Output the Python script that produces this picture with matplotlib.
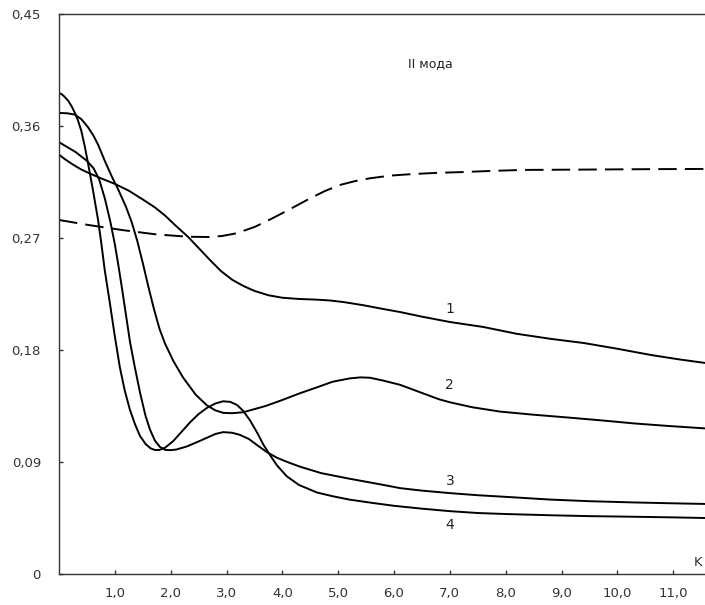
import numpy as np
import matplotlib.pyplot as plt

# curves of the second mode vs K
k1 = [0.0, 0.1, 0.25, 0.4, 0.52, 0.75, 1.0, 1.25, 1.5, 1.72, 1.9, 2.1, 2.31, 2.5,
      2.7, 2.9, 3.1, 3.3, 3.5, 3.75, 4.0, 4.3, 4.6, 4.85, 5.1, 5.45, 5.8, 6.11,
      6.5, 7.0, 7.6, 8.2, 8.8, 9.4, 10.0, 10.6, 11.1, 11.57]
v1 = [0.337, 0.3335, 0.329, 0.325, 0.3225, 0.318, 0.3135, 0.308, 0.301, 0.2945,
      0.288, 0.2795, 0.271, 0.262, 0.2525, 0.2435, 0.2365, 0.2315, 0.2275, 0.224,
      0.222, 0.221, 0.2205, 0.2198, 0.2185, 0.216, 0.213, 0.2105, 0.2068, 0.2025,
      0.1985, 0.193, 0.189, 0.1856, 0.181, 0.176, 0.1725, 0.1696]

k2 = [0.0, 0.15, 0.28, 0.4, 0.52, 0.62, 0.70, 0.82, 0.95, 1.06, 1.2, 1.3, 1.4, 1.5,
      1.6, 1.7, 1.8, 1.9, 2.05, 2.22, 2.45, 2.65, 2.8, 2.94, 3.1, 3.3, 3.5, 3.7,
      4.01, 4.3, 4.62, 4.9, 5.21, 5.4, 5.57, 5.8, 6.11, 6.5, 6.8, 7.0, 7.4, 7.9,
      8.5, 9.1, 9.7, 10.3, 10.9, 11.57]
v2 = [0.3705, 0.3702, 0.3692, 0.3655, 0.359, 0.352, 0.345, 0.332, 0.319, 0.309,
      0.295, 0.283, 0.268, 0.250, 0.231, 0.213, 0.197, 0.185, 0.171, 0.158, 0.144,
      0.1355, 0.1315, 0.1295, 0.1292, 0.130, 0.1325, 0.135, 0.140, 0.145, 0.150,
      0.1545, 0.1572, 0.158, 0.1577, 0.1555, 0.152, 0.1455, 0.1405, 0.138, 0.134,
      0.1305, 0.128, 0.1258, 0.1235, 0.121, 0.119, 0.117]

k3 = [0.0, 0.15, 0.3, 0.5, 0.62, 0.72, 0.82, 0.92, 1.0, 1.06, 1.13, 1.2, 1.27,
      1.35, 1.45, 1.55, 1.63, 1.72, 1.81, 1.9, 1.99, 2.1, 2.29, 2.5, 2.65, 2.8,
      2.94, 3.1, 3.24, 3.4, 3.55, 3.72, 3.9, 4.1, 4.32, 4.7, 5.21, 5.7, 6.11, 6.5,
      7.0, 7.5, 8.0, 8.8, 9.5, 10.3, 11.0, 11.57]
v3 = [0.347, 0.343, 0.339, 0.332, 0.326, 0.317, 0.302, 0.283, 0.265, 0.249, 0.229,
      0.208, 0.187, 0.168, 0.146, 0.127, 0.116, 0.107, 0.102, 0.0998, 0.0995, 0.100,
      0.1025, 0.1065, 0.1095, 0.1125, 0.114, 0.1135, 0.1118, 0.1085, 0.1035, 0.098,
      0.0935, 0.0898, 0.0862, 0.081, 0.0765, 0.0725, 0.069, 0.067, 0.065, 0.0633,
      0.062, 0.0598, 0.0585, 0.0575, 0.0568, 0.0563]

k4 = [0.0, 0.05, 0.10, 0.17, 0.23, 0.29, 0.34, 0.40, 0.46, 0.52, 0.61, 0.70, 0.76,
      0.82, 0.91, 1.0, 1.09, 1.18, 1.27, 1.36, 1.45, 1.55, 1.64, 1.72, 1.8, 1.9,
      2.05, 2.2, 2.35, 2.5, 2.65, 2.8, 2.94, 3.07, 3.19, 3.30, 3.42, 3.55, 3.66,
      3.78, 3.9, 4.08, 4.3, 4.62, 4.9, 5.2, 5.6, 6.0, 6.5, 7.0, 7.5, 8.0, 8.8, 9.5,
      10.3, 11.0, 11.57]
v4 = [0.3865, 0.3855, 0.3835, 0.380, 0.3755, 0.370, 0.3645, 0.356, 0.344, 0.330,
      0.308, 0.2845, 0.265, 0.244, 0.218, 0.191, 0.166, 0.147, 0.132, 0.1205, 0.111,
      0.1045, 0.101, 0.0996, 0.0997, 0.1015, 0.107, 0.1145, 0.122, 0.1285, 0.1335,
      0.137, 0.1388, 0.1383, 0.1358, 0.131, 0.1235, 0.1135, 0.104, 0.0955, 0.0875,
      0.0785, 0.0715, 0.0655, 0.0625, 0.0598, 0.0572, 0.0548, 0.0525, 0.0505, 0.049,
      0.0482, 0.0472, 0.0465, 0.046, 0.0455, 0.045]

# dashed reference curve
k_d = [0.0, 0.52, 1.13, 1.72, 2.31, 2.7, 2.92, 3.18, 3.51, 3.83, 4.15, 4.44, 4.75,
       5.03, 5.3, 5.57, 5.95, 6.34, 6.8, 7.24, 7.8, 8.31, 9.5, 10.5, 11.57]
v_d = [0.2845, 0.2805, 0.2764, 0.273, 0.271, 0.2708, 0.2716, 0.2738, 0.279, 0.286,
       0.2935, 0.3005, 0.3075, 0.3126, 0.3157, 0.318, 0.3202, 0.3214, 0.3224, 0.323,
       0.324, 0.3247, 0.325, 0.3253, 0.3255]

xticks = [1, 2, 3, 4, 5, 6, 7, 8, 9, 10, 11]
yticks = [0, 0.09, 0.18, 0.27, 0.36, 0.45]
curve_names = ['1', '2', '3', '4']
name_pos = [(7.0, 0.213), (7.0, 0.152), (7.0, 0.075), (7.0, 0.039)]

fig = plt.figure(figsize=(7.05, 6.05), dpi=100)
ax = fig.add_axes([59 / 705, 1 - 574 / 605, 1 - 59 / 705, 560 / 605])

lw = 1.4
for k, v in [(k1, v1), (k2, v2), (k3, v3), (k4, v4)]:
    ax.plot(k, v, color='black', lw=lw, solid_joinstyle='round')
ax.plot(k_d, v_d, color='black', lw=lw, dashes=(9.5, 4.2))

for name, (x, y) in zip(curve_names, name_pos):
    ax.text(x, y, name, fontsize=10, ha='center', va='center', color='#222222')

ax.text(6.65, 0.41, 'II мода', fontsize=9, ha='center', va='center', color='#222222')
ax.text(11.45, 0.0096, 'K', fontsize=9.5, ha='center', va='center', color='#333333')

ax.set_xlim(0, 11.57)
ax.set_ylim(0, 0.45)
ax.set_xticks(xticks)
ax.set_xticklabels([('%.1f' % t).replace('.', ',') for t in xticks])
ax.set_yticks(yticks)
ax.set_yticklabels(['0'] + [('%.2f' % t).replace('.', ',') for t in yticks[1:]])

ax.spines['right'].set_visible(False)
for s in ['left', 'bottom', 'top']:
    ax.spines[s].set_color('#333333')
    ax.spines[s].set_linewidth(1.0)
ax.tick_params(direction='in', length=3, width=1, color='#333333',
               labelsize=9.5, labelcolor='#333333')
ax.tick_params(axis='x', pad=9)
ax.tick_params(axis='y', pad=13)

fig.savefig('out.png', dpi=100)
